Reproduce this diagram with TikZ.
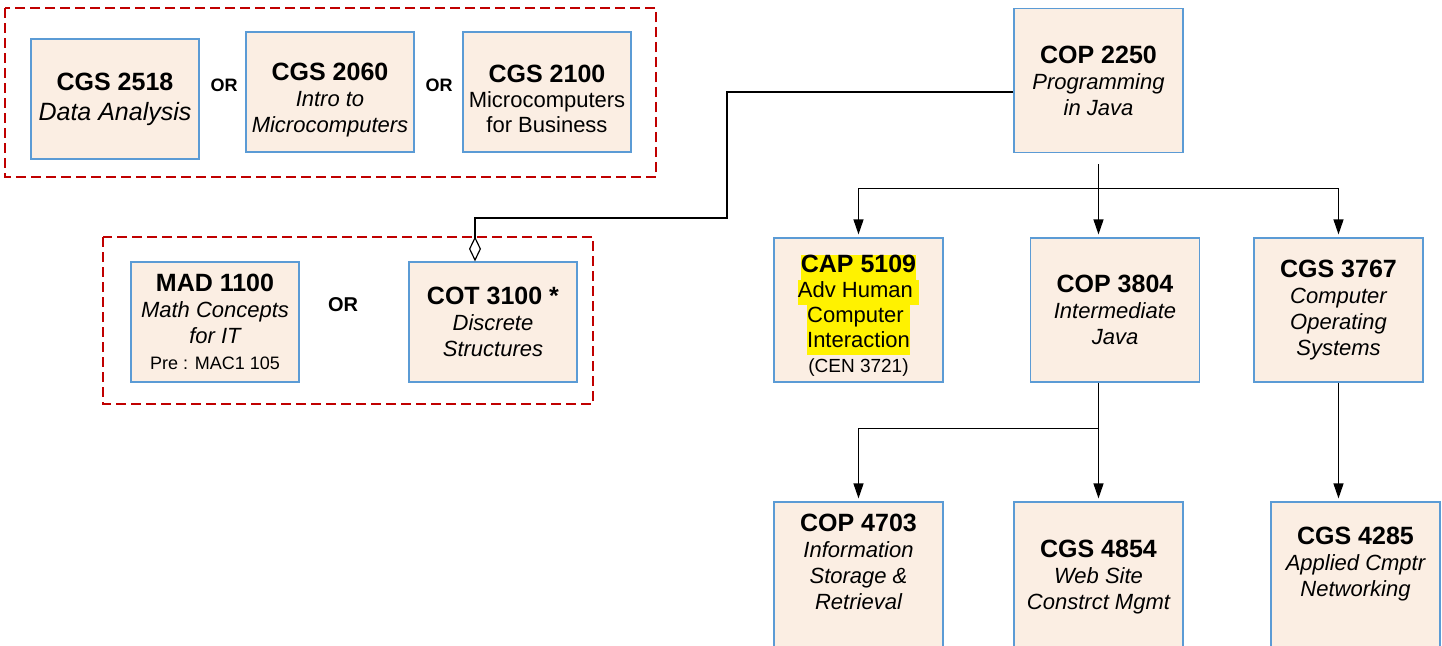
\documentclass[tikz,border=0pt]{standalone}
\usepackage{fontspec}
\setmainfont{Liberation Sans}
\usetikzlibrary{arrows.meta}
\definecolor{boxblue}{HTML}{5B9BD5}
\definecolor{boxfill}{HTML}{FBEEE3}
\definecolor{grpred}{HTML}{C00000}
\newcommand{\titolo}[1]{{\fontsize{12.5}{13}\selectfont\bfseries\upshape #1}}
\newcommand{\hili}[1]{{\setlength{\fboxsep}{0pt}\colorbox{yellow}{\strut #1}}}

\begin{document}
\begin{tikzpicture}[x=0.5pt, y=-0.5pt,
    corso/.style={rectangle, draw=boxblue, line width=0.6pt, fill=boxfill, inner sep=0pt, align=center, font=\fontsize{11}{13}\selectfont\itshape},
    piccolo/.style={minimum width=84pt, minimum height=60pt},
    alto/.style={minimum width=84.5pt, minimum height=72pt},
    basso/.style={minimum width=84.5pt, minimum height=90pt},
    gruppo/.style={draw=grpred, line width=1.25pt, dash pattern=on 5pt off 2.5pt},
    oppure/.style={font=\fontsize{9}{11}\selectfont\bfseries},
    collega/.style={line width=0.6pt},
    freccia/.style={collega, -{Triangle[length=7.5pt, width=5pt]}, shorten >=1.5pt}]
    % Cornice
    \useasboundingbox (0,0) rectangle (1442,645);
    \clip (0,0) rectangle (1442,645);
    % Primo gruppo
    \node[corso, piccolo, font=\fontsize{12.5}{15}\selectfont\itshape] (cgs2518) at (115,99) {\titolo{CGS 2518}\\Data Analysis};
    \node[oppure] (or1) at (224,85) {OR};
    \node[corso, piccolo] (cgs2060) at (330,92) {\rule{0pt}{17pt}\titolo{CGS 2060}\\Intro to\\Microcomputers};
    \node[oppure] (or2) at (439,85) {OR};
    \node[corso, piccolo, font=\fontsize{11}{12.5}\selectfont] (cgs2100) at (547,92) {\rule{0pt}{16pt}\titolo{CGS 2100}\\Microcomputers\\for Business};
    \draw[gruppo] (5,8) rectangle (656,177);
    % Secondo gruppo
    \node[corso, piccolo] (mad1100) at (215,322) {\titolo{MAD 1100}\\Math Concepts\\for IT\\{\upshape\fontsize{9}{11}\selectfont Pre : MAC1 105}};
    \node[oppure, font=\fontsize{10}{12}\selectfont\bfseries] (or3) at (343,305) {OR};
    \node[corso, piccolo] (cot3100) at (493,322) {\titolo{COT 3100 *}\\Discrete\\Structures};
    \draw[gruppo] (103,237) rectangle (593,404);
    % Java
    \node[corso, alto] (cop2250) at (1098.5,80.5) {\titolo{COP 2250}\\Programming\\in Java};
    \node[corso, alto, font=\fontsize{11}{12.5}\selectfont] (cap5109) at (858.5,310) {\rule{0pt}{14pt}\hili{\titolo{CAP 5109}}\\\hili{Adv Human }\\\hili{Computer }\\\hili{Interaction}\\{\fontsize{9.5}{11}\selectfont (CEN 3721)}};
    \node[corso, alto] (cop3804) at (1115,310) {\titolo{COP 3804}\\Intermediate\\Java};
    \node[corso, alto] (cgs3767) at (1338.5,310) {\titolo{CGS 3767}\\Computer\\Operating\\Systems};
    % Ultima riga
    \node[corso, basso] (cop4703) at (858.5,592) {\titolo{COP 4703}\\Information\\Storage \&\\Retrieval\\[17pt]\mbox{}};
    \node[corso, basso] (cgs4854) at (1098.5,592) {\titolo{CGS 4854}\\Web Site\\Constrct Mgmt\\[4pt]\mbox{}};
    \node[corso, basso] (cgs4285) at (1355.5,592) {\titolo{CGS 4285}\\Applied Cmptr\\Networking\\[17pt]\mbox{}};
    % Collegamenti
    \coordinate (gomito) at (727,218);
    \coordinate (rombo) at ([xshift=-9pt]cot3100.north);
    \draw[collega, -{Diamond[length=12.5pt, width=6pt, fill=white]}] ([yshift=-5.75pt]cop2250.west) -| (gomito) -| (rombo);
    \coordinate (javaout) at ([yshift=-5.5pt]cop2250.south);
    \coordinate (javabus) at ([yshift=-12pt]javaout);
    \draw[collega] (javaout) -- (javabus);
    \draw[freccia] (javabus) -- (javabus |- cop3804.north);
    \draw[freccia] (javabus) -| (cap5109.north);
    \draw[freccia] (javabus) -| (cgs3767.north);
    \coordinate (interout) at (cop3804.south -| javabus);
    \coordinate (interbus) at ([yshift=-23pt]interout);
    \draw[collega] (interout) -- (interbus);
    \draw[freccia] (interbus) -- (cgs4854.north);
    \draw[freccia] (interbus) -| (cop4703.north);
    \draw[freccia] (cgs3767.south) -- (cgs3767.south |- cgs4285.north);
\end{tikzpicture}
\end{document}
